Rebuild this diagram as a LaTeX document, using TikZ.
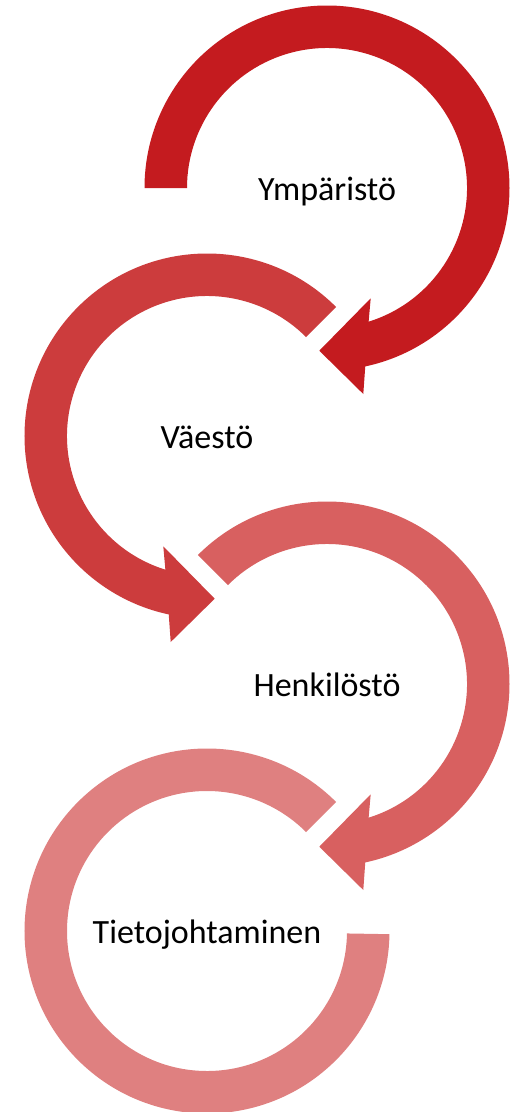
\documentclass[tikz,border=0pt]{standalone}
\usepackage{fontspec}
\setmainfont{Carlito}
\definecolor{cA}{RGB}{196,27,31}
\definecolor{cB}{RGB}{204,60,61}
\definecolor{cC}{RGB}{216,96,96}
\definecolor{cD}{RGB}{223,128,128}
\tikzset{
  circarrow/.style={insert path={(#1:182.5pt) arc[start angle=#1,end angle=-77.9,radius=182.5pt]
     -- (36.3,-206) -- (-7.7,-162.7) -- (43.7,-110.3) -- (-72.7:140pt)
     arc[start angle=-72.7,end angle=#1,radius=140pt] -- cycle}},
  openring/.style={insert path={(45:182.5pt) arc[start angle=45,end angle=359,radius=182.5pt]
     -- (359:140pt) arc[start angle=359,end angle=45,radius=140pt] -- cycle}},
  lbl/.style={anchor=base, font=\fontsize{34}{40}\selectfont, text=black, inner sep=0pt}
}
\begin{document}
\begin{tikzpicture}[x=1pt,y=1pt]
\useasboundingbox (0,0) rectangle (510,-1112);
% arrows
\begin{scope}[shift={(327,-188)}]
  \fill[cA, circarrow=180];
\end{scope}
\begin{scope}[shift={(207,-436)}, xscale=-1]
  \fill[cB, circarrow=135];
\end{scope}
\begin{scope}[shift={(327,-684)}]
  \fill[cC, circarrow=135];
\end{scope}
\begin{scope}[shift={(207,-931)}]
  \fill[cD, openring];
\end{scope}
% labels
\node[lbl] (ymp) at (327,-200) {Ympäristö};
\node[lbl] (vae) at (207,-448) {Väestö};
\node[lbl] (hen) at (327,-696) {Henkilöstö};
\node[lbl] (tie) at (207,-943) {Tietojohtaminen};
\end{tikzpicture}
\end{document}
